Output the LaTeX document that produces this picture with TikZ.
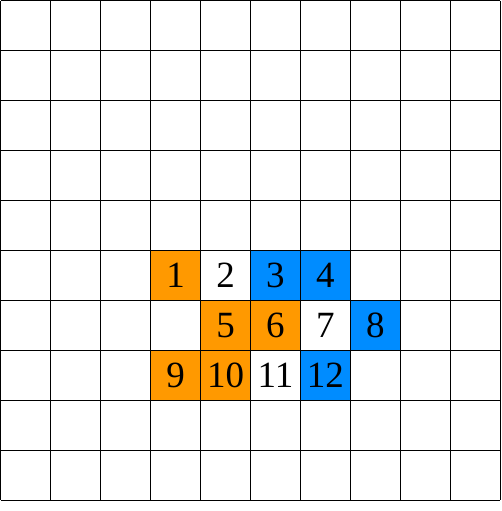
\documentclass[tikz,border=0pt]{standalone}
\usepackage{fontspec}
\setmainfont{Liberation Serif}
\definecolor{cellorange}{RGB}{255,153,0}
\definecolor{cellblue}{RGB}{0,140,255}
\newcommand{\celltext}[1]{\raisebox{-2pt}{#1}}
\begin{document}
\begin{tikzpicture}[x=1pt,y=-1pt,
  cell/.style={minimum width=49.95pt,minimum height=49.95pt,inner sep=0pt,
    font=\fontsize{37}{37}\selectfont},
  og/.style={cell,fill=cellorange},
  bl/.style={cell,fill=cellblue},
  wh/.style={cell},
  gridline/.style={line width=1.4pt,black}]
\useasboundingbox (0,0) rectangle (501,511);
\def\s{49.95}
\def\o{0.75}
% row 5
\node[og] (n1) at ({\o+3.5*\s},{\o+5.5*\s}) {\celltext{1}};
\node[wh] (n2) at ({\o+4.5*\s},{\o+5.5*\s}) {\celltext{2}};
\node[bl] (n3) at ({\o+5.5*\s},{\o+5.5*\s}) {\celltext{3}};
\node[bl] (n4) at ({\o+6.5*\s},{\o+5.5*\s}) {\celltext{4}};
% row 6
\node[og] (n5) at ({\o+4.5*\s},{\o+6.5*\s}) {\celltext{5}};
\node[og] (n6) at ({\o+5.5*\s},{\o+6.5*\s}) {\celltext{6}};
\node[wh] (n7) at ({\o+6.5*\s},{\o+6.5*\s}) {\celltext{7}};
\node[bl] (n8) at ({\o+7.5*\s},{\o+6.5*\s}) {\celltext{8}};
% row 7
\node[og] (n9) at ({\o+3.5*\s},{\o+7.5*\s}) {\celltext{9}};
\node[og] (n10) at ({\o+4.5*\s},{\o+7.5*\s}) {\celltext{10}};
\node[wh] (n11) at ({\o+5.5*\s},{\o+7.5*\s}) {\celltext{11}};
\node[bl] (n12) at ({\o+6.5*\s},{\o+7.5*\s}) {\celltext{12}};
% grid
\foreach \i in {0,...,10}{
  \draw[gridline] ({\o+\i*\s},{\o}) -- ({\o+\i*\s},{\o+10*\s});
  \draw[gridline] ({\o},{\o+\i*\s}) -- ({\o+10*\s},{\o+\i*\s});
}
\end{tikzpicture}
\end{document}
